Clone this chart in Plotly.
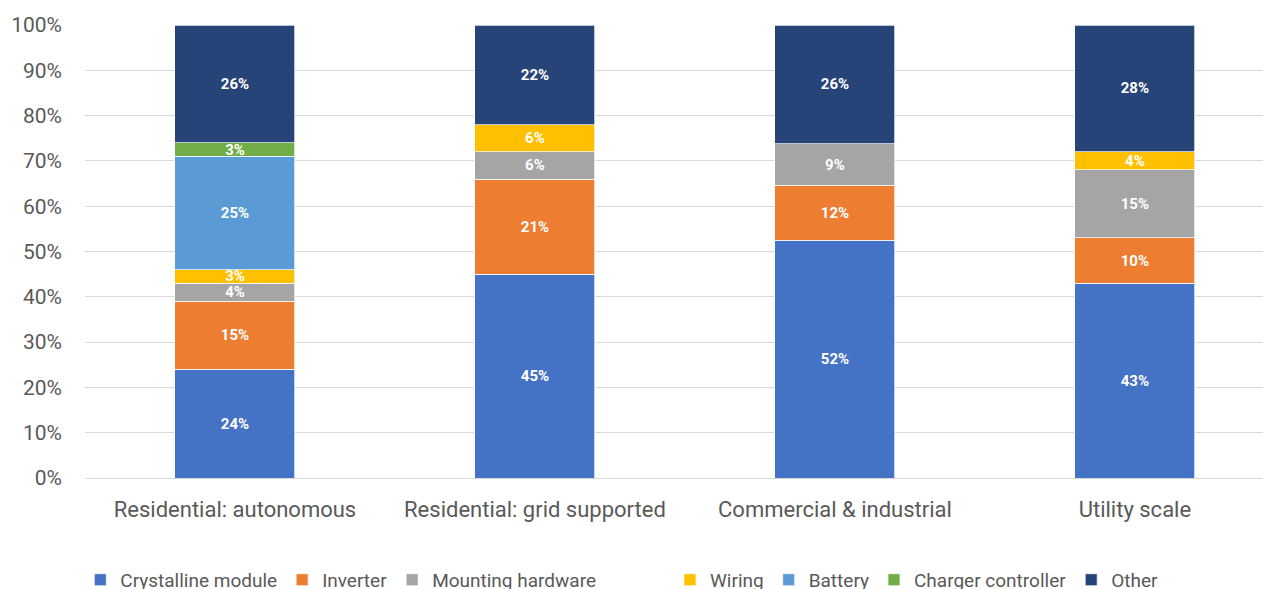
import plotly.graph_objects as go

categories = [
    "Residential: autonomous",
    "Residential: grid supported",
    "Commercial & industrial",
    "Utility scale",
]

crystalline_module = [24, 45, 52, 43]
inverter = [15, 21, 12, 10]
mounting_hardware = [4, 6, 9, 15]
wiring = [3, 6, None, 4]
battery = [25, None, None, None]
charger_controller = [3, None, None, None]
other = [26, 22, 26, 28]

# (name, values, colour, legend group shown in)
series = [
    ("Crystalline module", crystalline_module, "#4472C4", "legend"),
    ("Inverter", inverter, "#ED7D31", "legend"),
    ("Mounting hardware", mounting_hardware, "#A5A5A5", "legend"),
    ("Wiring", wiring, "#FFC000", "legend2"),
    ("Battery", battery, "#5B9BD5", "legend2"),
    ("Charger controller", charger_controller, "#70AD47", "legend2"),
    ("Other", other, "#264478", "legend2"),
]

FONT = "Roboto, Arial, sans-serif"
GREY = "#595959"

fig = go.Figure()
for name, values, color, legend in series:
    labels = [f"{v}%" if v else "" for v in values]
    fig.add_trace(
        go.Bar(
            name=name,
            x=categories,
            y=values,
            text=labels,
            texttemplate="%{text}",
            textposition="inside",
            insidetextanchor="middle",
            textangle=0,
            constraintext="none",
            textfont=dict(family=FONT, size=15, color="white", weight="bold"),
            marker=dict(color=color, line=dict(color="white", width=0.7)),
            width=0.4,
            hoverinfo="skip",
            legend=legend,
        )
    )

legend_style = dict(
    orientation="h",
    xanchor="left",
    y=-0.183,
    yanchor="top",
    font=dict(family=FONT, size=19, color=GREY),
    traceorder="normal",
    itemclick=False,
    itemdoubleclick=False,
    bgcolor="rgba(0,0,0,0)",
)

fig.update_layout(
    width=1263,
    height=589,
    barmode="stack",
    barnorm="percent",
    plot_bgcolor="white",
    paper_bgcolor="white",
    margin=dict(l=85, r=0, t=25, b=111, autoexpand=False),
    font=dict(family=FONT, size=20, color=GREY),
    uniformtext=dict(mode="show", minsize=15),
    showlegend=True,
    legend=dict(x=-0.004, **legend_style),
    legend2=dict(x=0.4966, **legend_style),
)

fig.update_xaxes(
    range=[-0.5, 3.427],
    showgrid=False,
    showline=False,
    ticks="",
    tickfont=dict(family=FONT, size=22, color=GREY),
    ticklabelstandoff=16,
)
fig.update_yaxes(
    range=[0, 100],
    tickvals=[0, 10, 20, 30, 40, 50, 60, 70, 80, 90, 100],
    ticktext=[f"{v}%" for v in range(0, 101, 10)],
    showgrid=True,
    gridcolor="#D9D9D9",
    gridwidth=1,
    zeroline=True,
    zerolinecolor="#D9D9D9",
    zerolinewidth=1,
    showline=False,
    ticks="",
    tickfont=dict(family=FONT, size=21, color=GREY),
    ticklabelstandoff=22,
)

fig.write_html("out.html")
